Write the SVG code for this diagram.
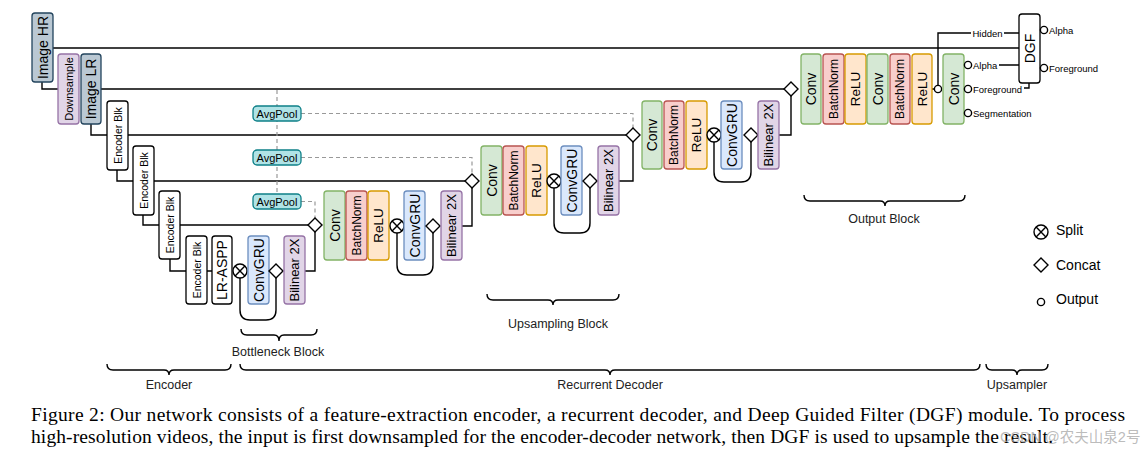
<svg xmlns="http://www.w3.org/2000/svg" width="1145" height="457" viewBox="0 0 1145 457">
<style>
.n{stroke-width:1.3}
.t{font-family:"Liberation Sans",Arial,sans-serif;text-anchor:middle;dominant-baseline:central;fill:#000}
.conv{fill:#d5e8d4;stroke:#82b366}
.bn{fill:#f8cecc;stroke:#b85450}
.relu{fill:#ffe6cc;stroke:#d79b00}
.gru{fill:#dae8fc;stroke:#6c8ebf}
.bil{fill:#e1d5e7;stroke:#9673a6}
.pool{fill:#b0e3e6;stroke:#0e8088}
.img{fill:#bac8d3;stroke:#23445d}
.enc{fill:#fff;stroke:#000}
.ln{fill:none;stroke:#000;stroke-width:1.4}
.dash{fill:none;stroke:#999;stroke-width:1.2;stroke-dasharray:4 3}
.sym{fill:#fff;stroke:#000;stroke-width:1.4}
.lbl{font-family:"Liberation Sans",Arial,sans-serif;font-size:12.5px;text-anchor:middle;fill:#222}
.small{font-family:"Liberation Sans",Arial,sans-serif;font-size:9.5px;fill:#000;dominant-baseline:central}
.leg{font-family:"Liberation Sans",Arial,sans-serif;font-size:14px;fill:#000;dominant-baseline:central}
.cap{font-family:"Liberation Serif","Times New Roman",serif;font-size:19.5px;fill:#000}
</style>
<defs>
<g id="split"><circle r="7" class="sym"/><path d="M-4.9,-4.9L4.9,4.9M-4.9,4.9L4.9,-4.9" stroke="#000" stroke-width="1.4"/></g>
<path id="concat" d="M-7,0L0,-7L7,0L0,7Z" class="sym"/>
<circle id="out" r="3.6" class="sym"/>
</defs>
<rect width="1145" height="457" fill="#fff"/>

<g id="connectors">
<path class="ln" d="M53,48H1019"/>
<path class="ln" d="M42,82V89H58M101,89H784"/>
<path class="ln" d="M91,124V135H107M128,135H626"/>
<path class="ln" d="M117,170V181H133M154,181H465"/>
<path class="ln" d="M143,215V225H159M180,225H308"/>
<path class="ln" d="M170,259V271H186M207,271H212"/>
<path class="ln" d="M305,271H315V232"/>
<path class="ln" d="M240,278V310Q240,320 250,320H266Q276,320 276,310V278"/>
<path class="ln" d="M462,226H472V188"/>
<path class="ln" d="M397,233V265Q397,275 407,275H423Q433,275 433,265V233"/>
<path class="ln" d="M619,181H633V142"/>
<path class="ln" d="M554,188V223Q554,233 564,233H580Q590,233 590,223V188"/>
<path class="ln" d="M779,135H791V96"/>
<path class="ln" d="M714,142V172Q714,182 724,182H741Q751,182 751,172V142"/>
<path class="ln" d="M932,89H934M938,85V33H971M1004,33H1019"/>
<path class="ln" d="M999,65H1019M1024,88H1029V83"/>
<path class="dash" d="M277,90V194"/>
<path class="dash" d="M301,113.5H633V128"/>
<path class="dash" d="M301,157.5H472V174"/>
<path class="dash" d="M301,201.5H315V218"/>
</g>

<g id="imageHR"><rect class="n img" x="32" y="13" width="21" height="69" rx="3"/><text class="t" font-size="14" transform="translate(42.5,47.5) rotate(-90)">Image HR</text></g>
<g id="downsample"><rect class="n bil" x="58" y="54" width="21" height="70" rx="3"/><text class="t" font-size="11" transform="translate(68.5,89) rotate(-90)">Downsample</text></g>
<g id="imageLR"><rect class="n img" x="81" y="54" width="20" height="70" rx="3"/><text class="t" font-size="14" transform="translate(91,89) rotate(-90)">Image LR</text></g>

<g id="enc1"><rect class="n enc" x="107" y="101" width="21" height="69" rx="3"/><text class="t" font-size="10.5" transform="translate(117.5,135.5) rotate(-90)">Encoder Blk</text></g>
<g id="enc2"><rect class="n enc" x="133" y="146" width="21" height="69" rx="3"/><text class="t" font-size="10.5" transform="translate(143.5,180.5) rotate(-90)">Encoder Blk</text></g>
<g id="enc3"><rect class="n enc" x="159" y="191" width="21" height="68" rx="3"/><text class="t" font-size="10.5" transform="translate(169.5,225) rotate(-90)">Encoder Blk</text></g>
<g id="enc4"><rect class="n enc" x="186" y="236" width="21" height="68" rx="3"/><text class="t" font-size="10.5" transform="translate(196.5,270) rotate(-90)">Encoder Blk</text></g>
<g id="lraspp"><rect class="n enc" x="212" y="236" width="20" height="68" rx="3"/><text class="t" font-size="14" transform="translate(222,270) rotate(-90)">LR-ASPP</text></g>

<g id="avgpool1"><rect class="n pool" x="253" y="106" width="48" height="15" rx="4"/><text class="t" font-size="11" x="277" y="113.5">AvgPool</text></g>
<g id="avgpool2"><rect class="n pool" x="253" y="150" width="48" height="15" rx="4"/><text class="t" font-size="11" x="277" y="157.5">AvgPool</text></g>
<g id="avgpool3"><rect class="n pool" x="253" y="194" width="48" height="15" rx="4"/><text class="t" font-size="11" x="277" y="201.5">AvgPool</text></g>

<g id="bottleneck">
<use href="#split" x="240" y="271"/>
<rect class="n gru" x="248" y="236" width="21" height="68" rx="3"/><text class="t" font-size="14" transform="translate(258.5,270) rotate(-90)">ConvGRU</text>
<use href="#concat" x="276" y="271"/>
<rect class="n bil" x="284" y="236" width="21" height="68" rx="3"/><text class="t" font-size="13" transform="translate(294.5,270) rotate(-90)">Bilinear 2X</text>
</g>

<g id="up1">
<use href="#concat" x="315" y="225"/>
<rect class="n conv" x="324" y="191" width="21" height="69" rx="3"/><text class="t" font-size="14" transform="translate(334.5,225.5) rotate(-90)">Conv</text>
<rect class="n bn" x="346" y="191" width="21" height="69" rx="3"/><text class="t" font-size="12" transform="translate(356.5,225.5) rotate(-90)">BatchNorm</text>
<rect class="n relu" x="368" y="191" width="21" height="69" rx="3"/><text class="t" font-size="13.5" transform="translate(378.5,225.5) rotate(-90)">ReLU</text>
<use href="#split" x="397" y="226"/>
<rect class="n gru" x="404" y="191" width="21" height="69" rx="3"/><text class="t" font-size="14" transform="translate(414.5,225.5) rotate(-90)">ConvGRU</text>
<use href="#concat" x="433" y="226"/>
<rect class="n bil" x="441" y="191" width="21" height="69" rx="3"/><text class="t" font-size="13" transform="translate(451.5,225.5) rotate(-90)">Bilinear 2X</text>
</g>

<g id="up2">
<use href="#concat" x="472" y="181"/>
<rect class="n conv" x="481" y="146" width="21" height="69" rx="3"/><text class="t" font-size="14" transform="translate(491.5,180.5) rotate(-90)">Conv</text>
<rect class="n bn" x="503" y="146" width="21" height="69" rx="3"/><text class="t" font-size="12" transform="translate(513.5,180.5) rotate(-90)">BatchNorm</text>
<rect class="n relu" x="526" y="146" width="21" height="69" rx="3"/><text class="t" font-size="13.5" transform="translate(536.5,180.5) rotate(-90)">ReLU</text>
<use href="#split" x="554" y="181"/>
<rect class="n gru" x="561" y="146" width="21" height="69" rx="3"/><text class="t" font-size="14" transform="translate(571.5,180.5) rotate(-90)">ConvGRU</text>
<use href="#concat" x="590" y="181"/>
<rect class="n bil" x="598" y="146" width="21" height="69" rx="3"/><text class="t" font-size="13" transform="translate(608.5,180.5) rotate(-90)">Bilinear 2X</text>
</g>

<g id="up3">
<use href="#concat" x="633" y="135"/>
<rect class="n conv" x="642" y="101" width="20" height="68" rx="3"/><text class="t" font-size="14" transform="translate(652,135) rotate(-90)">Conv</text>
<rect class="n bn" x="664" y="101" width="20" height="68" rx="3"/><text class="t" font-size="12" transform="translate(674,135) rotate(-90)">BatchNorm</text>
<rect class="n relu" x="686" y="101" width="21" height="68" rx="3"/><text class="t" font-size="13.5" transform="translate(696.5,135) rotate(-90)">ReLU</text>
<use href="#split" x="714" y="135"/>
<rect class="n gru" x="721" y="101" width="21" height="68" rx="3"/><text class="t" font-size="14" transform="translate(731.5,135) rotate(-90)">ConvGRU</text>
<use href="#concat" x="751" y="135"/>
<rect class="n bil" x="758" y="101" width="21" height="68" rx="3"/><text class="t" font-size="13" transform="translate(768.5,135) rotate(-90)">Bilinear 2X</text>
</g>

<g id="outputblock">
<use href="#concat" x="791" y="89"/>
<rect class="n conv" x="801" y="54" width="20" height="70" rx="3"/><text class="t" font-size="14" transform="translate(811,89) rotate(-90)">Conv</text>
<rect class="n bn" x="823" y="54" width="21" height="70" rx="3"/><text class="t" font-size="12" transform="translate(833.5,89) rotate(-90)">BatchNorm</text>
<rect class="n relu" x="845" y="54" width="21" height="70" rx="3"/><text class="t" font-size="13.5" transform="translate(855.5,89) rotate(-90)">ReLU</text>
<rect class="n conv" x="867" y="54" width="21" height="70" rx="3"/><text class="t" font-size="14" transform="translate(877.5,89) rotate(-90)">Conv</text>
<rect class="n bn" x="890" y="54" width="20" height="70" rx="3"/><text class="t" font-size="12" transform="translate(900,89) rotate(-90)">BatchNorm</text>
<rect class="n relu" x="912" y="54" width="20" height="70" rx="3"/><text class="t" font-size="13.5" transform="translate(922,89) rotate(-90)">ReLU</text>
<use href="#out" x="938" y="89"/>
<rect class="n conv" x="943" y="54" width="21" height="70" rx="3"/><text class="t" font-size="14" transform="translate(953.5,89) rotate(-90)">Conv</text>
<use href="#out" x="968" y="65"/><text class="small" x="973" y="65">Alpha</text>
<use href="#out" x="968" y="89"/><text class="small" x="973" y="89">Foreground</text>
<use href="#out" x="968" y="113"/><text class="small" x="973" y="113">Segmentation</text>
<text class="small" x="987.5" y="33" text-anchor="middle">Hidden</text>
</g>

<g id="dgf">
<rect class="n enc" x="1019" y="14" width="21" height="69" rx="3"/><text class="t" font-size="14" transform="translate(1029.5,48.5) rotate(-90)">DGF</text>
<use href="#out" x="1044" y="30"/><text class="small" x="1049" y="30">Alpha</text>
<use href="#out" x="1044" y="68"/><text class="small" x="1049" y="68">Foreground</text>
</g>

<g id="braces" class="ln" stroke-width="1.2">
<path d="M241,329Q241,335 247,335H274Q279,335 279,341Q279,335 284,335H311Q317,335 317,329"/>
<path d="M487,294Q487,300 493,300H548Q553,300 553,305Q553,300 558,300H613Q619,300 619,294"/>
<path d="M804,195Q804,201 810,201H880Q885,201 885,206Q885,201 890,201H959Q965,201 965,195"/>
<path d="M107,364Q107,370 113,370H164Q169,370 169,375Q169,370 174,370H225Q231,370 231,364"/>
<path d="M240,364Q240,370 246,370H605Q610,370 610,375Q610,370 615,370H974Q980,370 980,364"/>
<path d="M986,364Q986,370 992,370H1012Q1017,370 1017,375Q1017,370 1022,370H1042Q1048,370 1048,364"/>
</g>
<g id="blocklabels">
<text class="lbl" x="278" y="356">Bottleneck Block</text>
<text class="lbl" x="558" y="328">Upsampling Block</text>
<text class="lbl" x="884" y="223">Output Block</text>
<text class="lbl" x="169" y="389">Encoder</text>
<text class="lbl" x="610" y="389">Recurrent Decoder</text>
<text class="lbl" x="1017" y="389">Upsampler</text>
</g>

<g id="legend">
<use href="#split" x="1041" y="232"/><text class="leg" x="1056" y="230">Split</text>
<use href="#concat" x="1041" y="265"/><text class="leg" x="1056" y="265">Concat</text>
<use href="#out" x="1041" y="302"/><text class="leg" x="1056" y="299">Output</text>
</g>

<g id="caption">
<text class="cap" x="31" y="421" textLength="1094" lengthAdjust="spacing">Figure 2: Our network consists of a feature-extraction encoder, a recurrent decoder, and Deep Guided Filter (DGF) module. To process</text>
<text class="cap" x="31" y="443" textLength="1022" lengthAdjust="spacing">high-resolution videos, the input is first downsampled for the encoder-decoder network, then DGF is used to upsample the result.</text>
<text x="1000" y="442" font-family="'Liberation Sans','Noto Sans CJK SC',sans-serif" font-size="14.5" fill="#aaa" fill-opacity="0.8">CSDN @农夫山泉2号</text>
</g>
</svg>
